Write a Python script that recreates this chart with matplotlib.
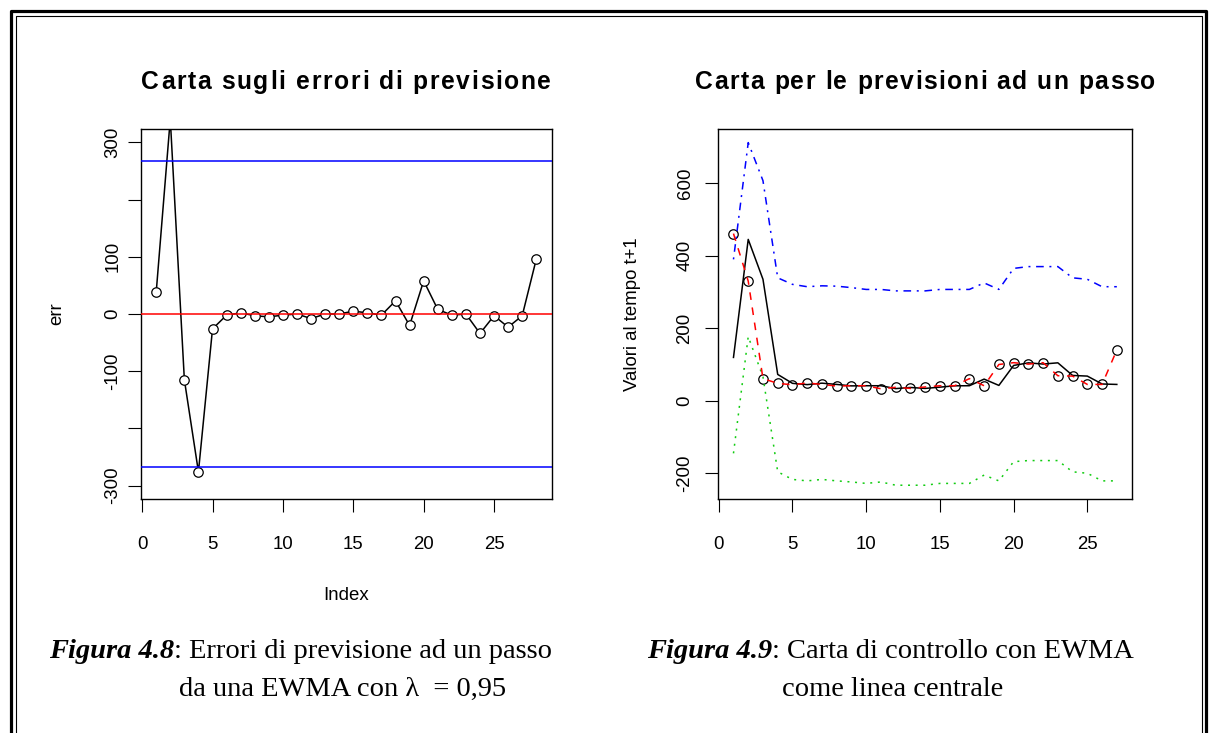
import numpy as np
import matplotlib
matplotlib.use('Agg')
import matplotlib.pyplot as plt
import matplotlib.font_manager as fm
from matplotlib.ft2font import FT2Font
from matplotlib.lines import Line2D

# ---------------------------------------------------------------
# dati
# ---------------------------------------------------------------
# errori di previsione ad un passo (EWMA, lambda = 0.95)
err = [38, 341, -115, -276, -26, -2, 2, -3, -5, -2, 0, -8, 0, 0, 5, 2, -2,
       23, -20, 58, 8, -2, 0, -34, -3, -23, -3, 96]
lim_err = 268

# valori osservati, EWMA e limiti di controllo
obs = [461, 330, 61, 48, 44, 49, 45, 40.5, 41.4, 41.4, 33, 37, 34, 38, 41.4,
       41.4, 61, 41.4, 100, 105, 101, 105, 69, 68, 45, 45, 140]
ewma = [119.5, 445, 335, 72.6, 48, 44.5, 48.5, 45, 41, 41.4, 41.4, 33.5, 36.6,
        34, 37.5, 41.2, 41.4, 59.7, 42.3, 97.3, 104.5, 101.2, 104.6, 69.8, 68,
        46.2, 45]
ucl = [390, 712, 607, 339, 321, 314.5, 317, 316, 312, 307, 307, 303, 303, 303,
       307, 307, 307, 325, 307, 365, 370, 370, 370, 339, 335, 314.5, 314.5]
lcl = [-145, 177, 66, -196, -217, -221, -217, -221, -224, -228, -224, -233,
       -233, -233, -228, -228, -228, -205, -221, -168, -165, -165, -165, -196,
       -200, -221, -221]

x_err = np.arange(1, len(err) + 1)
x_obs = np.arange(1, len(obs) + 1)

W, H, DPI = 1210, 733, 100
SANS = 'Liberation Sans'
SERIF = 'Liberation Serif'
FS = 13.4

fig = plt.figure(figsize=(W / DPI, H / DPI), dpi=DPI)
fig.patch.set_facecolor('white')


def px(x, y):
    return x / W, 1 - y / H


def advance(s, prop):
    font = FT2Font(fm.findfont(prop))
    font.set_size(prop.get_size_in_points(), DPI)
    return sum(font.load_char(ord(c)).linearHoriAdvance for c in s) / 65536


def spaced_title(ax, text, y, size, track):
    # titolo con spaziatura tra i caratteri
    prop = fm.FontProperties(family=SANS, weight='bold', size=size)
    adv = [advance(c, prop) for c in text]
    total = sum(adv) + track * (len(text) - 1)
    b = ax.get_position()
    x = (b.x0 + b.x1) / 2 * W - total / 2
    for c, a in zip(text, adv):
        if c != ' ':
            fig.text(*px(x, y), c, fontproperties=prop, ha='left', va='baseline')
        x += a + track


def caption(segments, x, y, align='left'):
    widths = [advance(t, p) for t, p in segments]
    if align == 'center':
        x -= sum(widths) / 2
    elif align == 'right':
        x -= sum(widths)
    for (t, p), w in zip(segments, widths):
        fig.text(*px(x, y), t, fontproperties=p, ha='left', va='baseline')
        x += w


def style_axes(ax):
    for s in ax.spines.values():
        s.set_linewidth(1.0)
        s.set_color('black')
    ax.tick_params(direction='out', length=9.4, width=0.8, labelsize=FS,
                   colors='black')
    for lab in ax.get_xticklabels() + ax.get_yticklabels():
        lab.set_family(SANS)


# ---------------------------------------------------------------
# carta sugli errori di previsione
# ---------------------------------------------------------------
ax1 = fig.add_axes([141 / W, 1 - 499 / H, 410.5 / W, 370 / H])
ax1.plot(x_err, err, color='black', lw=1.1, marker='o', ms=6.8,
         mfc='white', mec='black', mew=0.9, zorder=2)
ax1.axhline(lim_err, color='#0000FF', lw=1.1, zorder=3)
ax1.axhline(-lim_err, color='#0000FF', lw=1.1, zorder=3)
ax1.axhline(0, color='#FF0000', lw=1.1, zorder=3)
ax1.set_xlim(-0.08, 29.08)
ax1.set_ylim(-323.4, 323.4)
ax1.set_xticks(range(0, 26, 5))
ax1.set_yticks(range(-300, 301, 100))
ax1.set_yticklabels(['-300', '', '-100', '0', '100', '', '300'],
                    rotation=90, va='center')
style_axes(ax1)
ax1.tick_params(axis='x', pad=17.5)
ax1.tick_params(axis='y', pad=4.8)
ax1.set_xlabel('Index', fontsize=FS, family=SANS, va='center')
ax1.xaxis.set_label_coords(0.5, -97 / 370)
ax1.set_ylabel('err', fontsize=FS, family=SANS, va='center')
ax1.yaxis.set_label_coords((56.7 - 141) / 410.5, 0.5)

# ---------------------------------------------------------------
# carta per le previsioni ad un passo
# ---------------------------------------------------------------
ax2 = fig.add_axes([718 / W, 1 - 499 / H, 414.3 / W, 370 / H])
ax2.plot(x_obs, obs, ls='none', marker='o', ms=6.8, mfc='none',
         mec='black', mew=0.9, zorder=2)
ax2.plot(x_obs, ewma, color='black', lw=1.1, zorder=3)
ax2.plot(x_obs, ucl, color='#0000FF', lw=1.1, dashes=(1.3, 3.7, 5, 3.7),
         zorder=3)
ax2.plot(x_obs, lcl, color='#11CC11', lw=1.1, dashes=(1.3, 3.7), zorder=3)
ax2.plot(x_obs, obs, color='#FF0000', lw=1.1, dashes=(5, 5), zorder=4)
ax2.set_xlim(-0.05, 28.05)
ax2.set_ylim(-271, 749.5)
ax2.set_xticks(range(0, 26, 5))
ax2.set_yticks(range(-200, 601, 200))
ax2.set_yticklabels([str(v) for v in range(-200, 601, 200)],
                    rotation=90, va='center')
style_axes(ax2)
ax2.tick_params(axis='x', pad=17.5)
ax2.tick_params(axis='y', pad=8.2)
ax2.set_ylabel('Valori al tempo t+1', fontsize=FS, family=SANS, va='center')
ax2.yaxis.set_label_coords((632.5 - 718) / 414.3, 0.5)

spaced_title(ax1, 'Carta sugli errori di previsione', 89, 17.7, 1.7)
spaced_title(ax2, 'Carta per le previsioni ad un passo', 89, 17.7, 1.5)

# ---------------------------------------------------------------
# didascalie
# ---------------------------------------------------------------
cap_bi = fm.FontProperties(family=SERIF, weight='bold', style='italic', size=20.5)
cap_rg = fm.FontProperties(family=SERIF, size=20.5)

caption([('Figura 4.8', cap_bi), (': Errori di previsione ad un passo', cap_rg)],
        552, 658, align='right')
caption([('da una EWMA con \u03bb  = 0,95', cap_rg)], 344, 696, align='center')
caption([('Figura 4.9', cap_bi), (': Carta di controllo con EWMA', cap_rg)],
        890, 658, align='center')
caption([('come linea centrale', cap_rg)], 893, 696, align='center')

# ---------------------------------------------------------------
# cornice doppia
# ---------------------------------------------------------------
outer_x = [10.5, 10.5, 1205.5, 1205.5]
outer_y = [740, 10.5, 10.5, 740]
inner_x = [15.5, 15.5, 1201.5, 1201.5]
inner_y = [740, 15.5, 15.5, 740]
fig.add_artist(Line2D([x / W for x in outer_x], [1 - y / H for y in outer_y],
                      color='black', lw=2.3, transform=fig.transFigure))
fig.add_artist(Line2D([x / W for x in inner_x], [1 - y / H for y in inner_y],
                      color='black', lw=0.8, transform=fig.transFigure))

fig.savefig('out.png', dpi=DPI)
